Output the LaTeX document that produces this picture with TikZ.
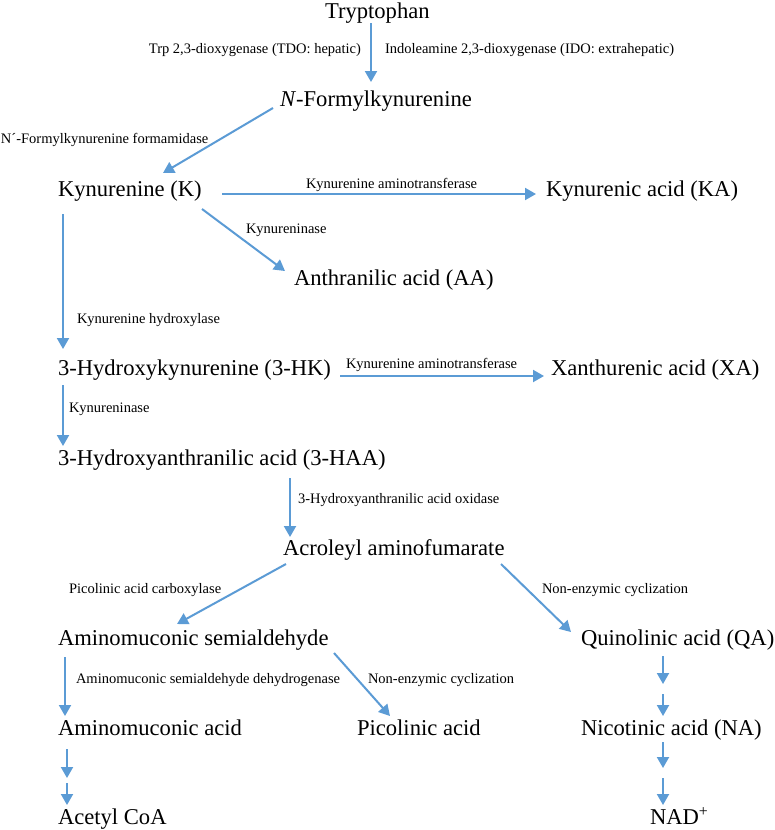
\documentclass[tikz,border=0pt]{standalone}
\usepackage{fontspec}
\setmainfont{Liberation Serif}
\usetikzlibrary{arrows.meta}
\definecolor{arrowblue}{RGB}{91,155,213}
\tikzset{
  met/.style={inner sep=0pt, outer sep=0pt, anchor=base west, font=\fontsize{22.6}{25}\selectfont},
  enz/.style={inner sep=0pt, outer sep=0pt, anchor=base west, font=\fontsize{14.5}{16}\selectfont},
  arr/.style={draw=arrowblue, line width=2pt, -{Triangle[width=12pt,length=11pt]}},
}
\begin{document}
\begin{tikzpicture}[x=1pt,y=-1pt]
\useasboundingbox[fill=white] (0,0) rectangle (775,830);
% metabolites
\node[met] (tryp) at (325,18) {Tryptophan};
\node[met] (nfk) at (280,106) {\textit{N}-Formylkynurenine};
\node[met] (k) at (58,196) {Kynurenine (K)};
\node[met] (ka) at (546,196) {Kynurenic acid (KA)};
\node[met] (aa) at (294,285) {Anthranilic acid (AA)};
\node[met] (hk) at (58,375) {3-Hydroxykynurenine (3-HK)};
\node[met] (xa) at (551,375) {Xanthurenic acid (XA)};
\node[met] (haa) at (58,465) {3-Hydroxyanthranilic acid (3-HAA)};
\node[met] (acms) at (283,555) {Acroleyl aminofumarate};
\node[met] (ams) at (58,645) {Aminomuconic semialdehyde};
\node[met] (qa) at (581,645) {Quinolinic acid (QA)};
\node[met] (ama) at (58,735) {Aminomuconic acid};
\node[met] (pic) at (357,735) {Picolinic acid};
\node[met] (na) at (581,735) {Nicotinic acid (NA)};
\node[met] (acoa) at (58,824) {Acetyl CoA};
\node[met] (nad) at (650,824) {NAD\textsuperscript{+}};
% enzymes
\node[enz, anchor=base east] (tdo) at (361,53) {Trp 2,3-dioxygenase (TDO: hepatic)};
\node[enz] (ido) at (385,53) {Indoleamine 2,3-dioxygenase (IDO: extrahepatic)};
\node[enz] (nfkf) at (1,143) {N´-Formylkynurenine formamidase};
\node[enz] (kat1) at (306,188) {Kynurenine aminotransferase};
\node[enz] (kyn1) at (246,233) {Kynureninase};
\node[enz] (khyd) at (77,323) {Kynurenine hydroxylase};
\node[enz] (kat2) at (346,368) {Kynurenine aminotransferase};
\node[enz] (kyn2) at (69,412) {Kynureninase};
\node[enz] (haao) at (298,503) {3-Hydroxyanthranilic acid oxidase};
\node[enz] (pac) at (69,593) {Picolinic acid carboxylase};
\node[enz] (nec1) at (542,593) {Non-enzymic cyclization};
\node[enz] (amsdh) at (76,683) {Aminomuconic semialdehyde dehydrogenase};
\node[enz] (nec2) at (368,683) {Non-enzymic cyclization};
% intermediate points of the double arrows
\coordinate (mA) at (67,780.5);
\coordinate (mQ) at (663,689);
\coordinate (mN) at (663,773);
% connectors
\draw[arr] ([xshift=46pt,yshift=-5pt]tryp.base west) -- ([xshift=91pt,yshift=24pt]nfk.base west);
\draw[arr] ([xshift=-7pt,yshift=-2pt]nfk.base west) -- ([xshift=105pt,yshift=23pt]k.base west);
\draw[arr] ([xshift=164pt,yshift=2pt]k.base west) -- ([xshift=-10pt,yshift=2pt]ka.base west);
\draw[arr] ([xshift=144pt,yshift=-13pt]k.base west) -- ([xshift=-9pt,yshift=14pt]aa.base west);
\draw[arr] ([xshift=5pt,yshift=-18pt]k.base west) -- ([xshift=5pt,yshift=26pt]hk.base west);
\draw[arr] ([xshift=282pt,yshift=-1pt]hk.base west) -- ([xshift=-7pt,yshift=-1pt]xa.base west);
\draw[arr] ([xshift=5pt,yshift=-10pt]hk.base west) -- ([xshift=5pt,yshift=19pt]haa.base west);
\draw[arr] ([xshift=232pt,yshift=-13pt]haa.base west) -- ([xshift=7pt,yshift=18pt]acms.base west);
\draw[arr] ([xshift=3pt,yshift=-9pt]acms.base west) -- ([xshift=119pt,yshift=21pt]ams.base west);
\draw[arr] ([xshift=218pt,yshift=-9pt]acms.base west) -- ([xshift=-10pt,yshift=13pt]qa.base west);
\draw[arr] ([xshift=7pt,yshift=-12pt]ams.base west) -- ([xshift=7pt,yshift=19pt]ama.base west);
\draw[arr] ([xshift=276pt,yshift=-8pt]ams.base west) -- ([xshift=33pt,yshift=19pt]pic.base west);
% double arrows
\draw[arr] ([xshift=9pt,yshift=-14pt]ama.base west) -- ([yshift=2.5pt]mA);
\draw[arr] ([yshift=-2.5pt]mA) -- ([xshift=9pt,yshift=19pt]acoa.base west);
\draw[arr] ([xshift=82pt,yshift=-11pt]qa.base west) -- ([yshift=5pt]mQ);
\draw[arr] ([yshift=-5pt]mQ) -- ([xshift=82pt,yshift=19pt]na.base west);
\draw[arr] ([xshift=82pt,yshift=-7pt]na.base west) -- ([yshift=5pt]mN);
\draw[arr] ([yshift=-5pt]mN) -- ([xshift=13pt,yshift=19pt]nad.base west);
\end{tikzpicture}
\end{document}
